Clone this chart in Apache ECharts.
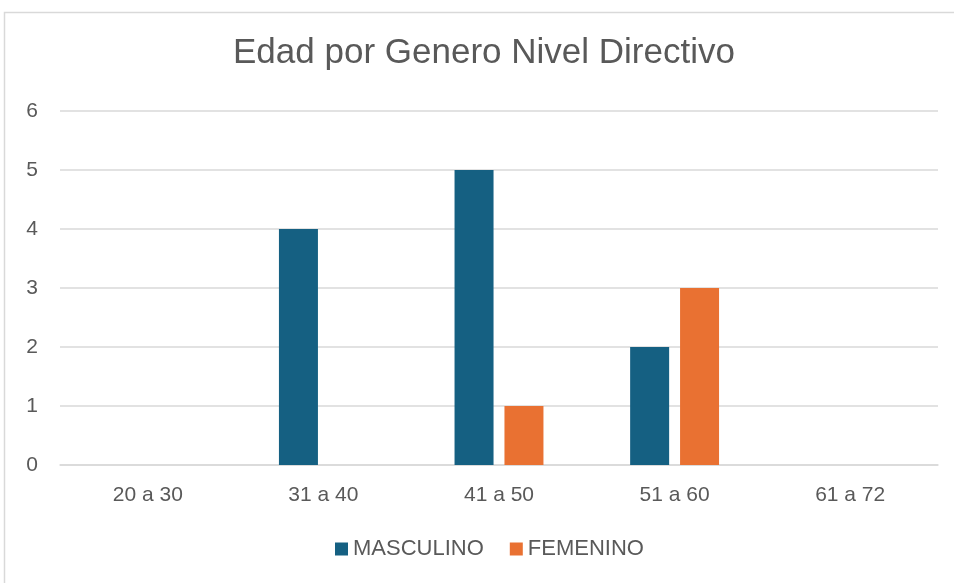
<!DOCTYPE html>
<html>
<head>
<meta charset="utf-8">
<script src="https://cdn.jsdelivr.net/npm/echarts@6/dist/echarts.min.js"></script>
<style>
html,body{margin:0;padding:0;background:#fff;}
#chart{width:954px;height:583px;}
</style>
</head>
<body>
<div id="chart"></div>
<script>
let categorias=["20 a 30","31 a 40","41 a 50","51 a 60","61 a 72"];
let masculino=[0,4,5,2,0];
let femenino=[0,0,1,3,0];
let yTicks=[0,1,2,3,4,5,6];

var myChart=echarts.init(document.getElementById("chart"));
var option={
    backgroundColor:"#fff",
    animation:false,
    textStyle:{fontFamily:"Liberation Sans"},
    title:{
        text:"Edad por Genero Nivel Directivo",
        left:233,
        top:36,
        padding:0,
        textStyle:{color:"#595959",fontSize:35,fontWeight:"normal",fontFamily:"Liberation Sans"}
    },
    graphic:[{
        type:"rect",
        shape:{x:4.5,y:12.5,width:1000,height:1000},
        style:{fill:"none",stroke:"#d9d9d9",lineWidth:1.5},
        silent:true
    }],
    legend:{
        bottom:18,
        left:330,
        itemWidth:13,
        itemHeight:13,
        itemGap:26,
        icon:"rect",
        textStyle:{color:"#595959",fontSize:22}
    },
    grid:{left:60,right:16,top:111,bottom:118},
    xAxis:{
        type:"category",
        data:categorias,
        axisTick:{show:false},
        axisLine:{lineStyle:{color:"#d9d9d9",width:1.5}},
        axisLabel:{color:"#595959",fontSize:21,margin:20}
    },
    yAxis:{
        type:"value",
        min:yTicks[0],
        max:yTicks[yTicks.length-1],
        interval:1,
        axisLabel:{color:"#595959",fontSize:21,margin:22},
        splitLine:{lineStyle:{color:"#d9d9d9",width:1.5}}
    },
    series:[{
        name:"MASCULINO",
        type:"bar",
        data:masculino,
        barWidth:39,
        barGap:"28%",
        itemStyle:{color:"#156082"}
    },{
        name:"FEMENINO",
        type:"bar",
        data:femenino,
        barWidth:39,
        itemStyle:{color:"#E97132"}
    }]
};
myChart.setOption(option);
</script>
</body>
</html>
